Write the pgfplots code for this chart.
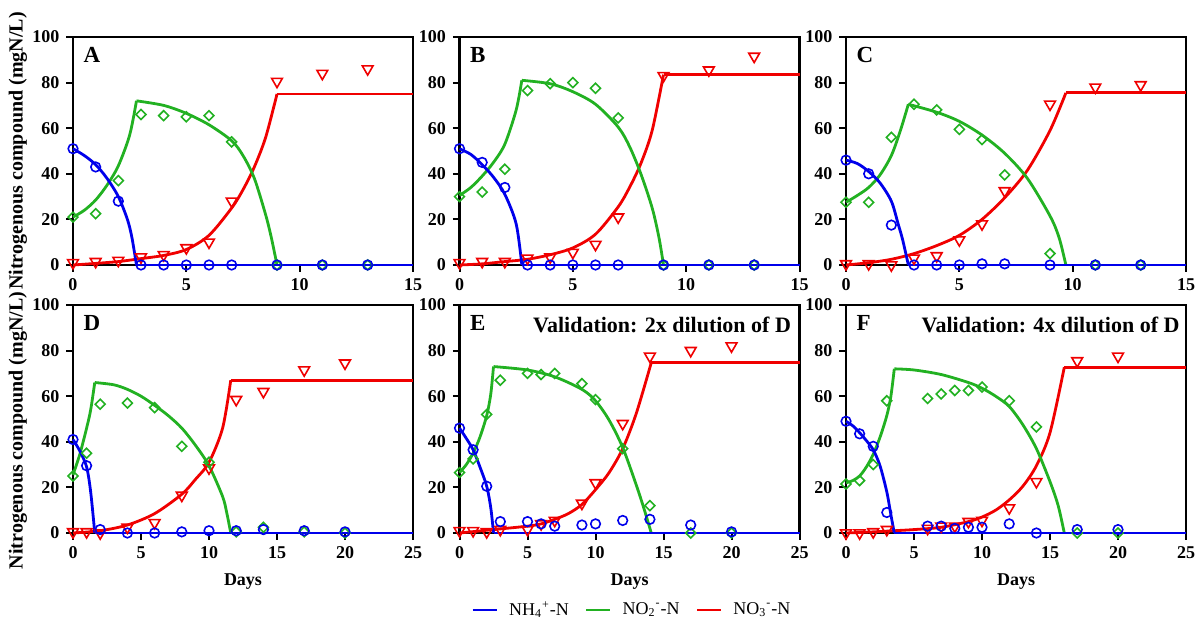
\documentclass[border=0pt]{standalone}
\usepackage{fontspec}
\setmainfont{Liberation Serif}
\usepackage{pgfplots}
\pgfplotsset{compat=1.18}
\usepgfplotslibrary{groupplots}

\definecolor{cnh}{RGB}{0,0,235}
\definecolor{cno2}{RGB}{34,177,34}
\definecolor{cno3}{RGB}{240,0,0}

\pgfplotsset{
  panel/.style={
    scale only axis, width=170pt, height=114pt,
    xmin=0, ymin=0, ymax=100, ytick={0,20,...,100},
    clip=false,
    axis line style={line width=1.3pt, black},
    tick style={line width=1pt, black},
    major tick length=3.3pt,
    tick align=outside, xtick pos=bottom, ytick pos=left,
    tick label style={font=\fontsize{9}{10}\selectfont\bfseries},
    /pgf/number format/assume math mode=true,
    ylabel style={font=\fontsize{10}{11}\selectfont\bfseries},
    xlabel style={font=\fontsize{9}{10}\selectfont\bfseries},
  },
  short/.style={xmax=15, xtick={0,5,10,15}},
  long/.style={xmax=25, xtick={0,5,...,25}},
  mdl/.style={line width=1.4pt, no markers, smooth},
  flat/.style={line width=1.4pt, no markers, sharp plot},
  nh/.style={only marks, mark=o, mark size=2.4pt, cnh, mark options={line width=0.8pt}},
  no2/.style={only marks, mark=square, mark size=1.75pt, cno2, mark options={rotate=45, line width=0.8pt}},
  no3/.style={only marks, mark=triangle, mark size=3.1pt, cno3, mark options={rotate=180, line width=0.8pt}},
}
\tikzset{
  lbl/.style={anchor=north west, inner sep=0pt, font=\fontsize{11.5}{12}\selectfont\bfseries},
  val/.style={anchor=north east, inner sep=0pt, font=\fontsize{11}{12}\selectfont\bfseries},
}

\begin{document}
\begin{tikzpicture}
\begin{groupplot}[
  group style={group size=3 by 2, horizontal sep=23.25pt, vertical sep=20pt, group name=G},
  panel]

% ---------- A ----------
\nextgroupplot[short, ylabel={Nitrogenous compound (mgN/L)},
  ylabel style={at={(axis description cs:-0.162,0.5)}, anchor=center}]
\addplot[mdl, cno3] coordinates {(0,0)(1,0.7)(2,1.5)(3,2.8)(4,4.2)(5,6.8)(6,13)(7,25)(7.5,33)(8,43)(8.5,56)(9,75)};
\addplot[flat, cno3] coordinates {(9,75)(15,75)};
\addplot[mdl, cno2] coordinates {(0,21)(0.5,24)(1,28.5)(1.5,35)(2,43.5)(2.5,57)(2.8,72)};
\addplot[mdl, cno2] coordinates {(2.8,72)(4,70)(5,66.5)(6,61.5)(7,54.5)(7.5,48)(8,38)(8.5,22)(8.75,12)(9,0)};
\addplot[flat, cno2] coordinates {(9,0)(15,0)};
\addplot[mdl, cnh] coordinates {(0,51)(0.5,48)(1,44)(1.5,38)(2,30)(2.4,20)(2.6,12)(2.8,0)};
\addplot[flat, cnh] coordinates {(2.8,0)(15,0)};
\addplot[no3] coordinates {(0,1)(1,1.5)(2,2)(3,3.5)(4,4.5)(5,7.5)(6,10)(7,28)(9,80.5)(11,84)(13,86)};
\addplot[no2] coordinates {(0,21)(1,22.5)(2,37)(3,66)(4,65.5)(5,65)(6,65.5)(7,54)(9,0)(11,0)(13,0)};
\addplot[nh] coordinates {(0,51)(1,43)(2,28)(3,0)(4,0)(5,0)(6,0)(7,0)(9,0)(11,0)(13,0)};
\node[lbl] at (rel axis cs:0.03,0.955) {A};

% ---------- B ----------
\nextgroupplot[short]
\addplot[mdl, cno3] coordinates {(0,0)(1,0.5)(2,1.5)(3,2.5)(4,4.5)(5,7.5)(6,13.5)(7,25.5)(7.5,34)(8,44.5)(8.5,59)(9,83.5)};
\addplot[flat, cno3] coordinates {(9,83.5)(15,83.5)};
\addplot[mdl, cno2] coordinates {(0,30.5)(0.5,34)(1,39)(1.5,45)(2,53)(2.5,68)(2.75,81)};
\addplot[mdl, cno2] coordinates {(2.75,81)(4,79.5)(5,76)(6,70.5)(7,60.5)(7.5,52)(8,40)(8.5,25)(8.8,12)(9,0)};
\addplot[flat, cno2] coordinates {(9,0)(15,0)};
\addplot[mdl, cnh] coordinates {(0,51)(0.5,48.5)(1,44)(1.5,38.5)(2,31)(2.5,18)(2.75,0)};
\addplot[flat, cnh] coordinates {(2.75,0)(15,0)};
\addplot[no3] coordinates {(0,1)(1,1.5)(2,1.5)(3,3)(4,3.5)(5,5.5)(6,9)(7,21)(9,83)(11,85.5)(13,91.5)};
\addplot[no2] coordinates {(0,30)(1,32)(2,42)(3,76.5)(4,79.5)(5,80)(6,77.5)(7,64.5)(9,0)(11,0)(13,0)};
\addplot[nh] coordinates {(0,51)(1,45)(2,34)(3,0)(4,0)(5,0)(6,0)(7,0)(9,0)(11,0)(13,0)};
\node[lbl] at (rel axis cs:0.03,0.955) {B};

% ---------- C ----------
\nextgroupplot[short]
\addplot[mdl, cno3] coordinates {(0,0)(1,1)(2,2.5)(3,5)(4,8.5)(5,13)(6,20)(7,29.5)(8,41.5)(9,59)(9.7,75.5)};
\addplot[flat, cno3] coordinates {(9.7,75.5)(15,75.5)};
\addplot[mdl, cno2] coordinates {(0,27.5)(0.5,30.5)(1,34)(1.5,39.5)(2,48)(2.4,59)(2.75,70.5)};
\addplot[mdl, cno2] coordinates {(2.75,70.5)(4,67)(5,63)(6,57)(7,49)(8,38)(9,21.5)(9.4,12)(9.7,0)};
\addplot[flat, cno2] coordinates {(9.7,0)(15,0)};
\addplot[mdl, cnh] coordinates {(0,46)(0.5,44.5)(1,41)(1.5,36)(2,28)(2.3,18)(2.5,11)(2.75,0)};
\addplot[flat, cnh] coordinates {(2.75,0)(15,0)};
\addplot[no3] coordinates {(0,0.5)(1,0.5)(2,0)(3,3)(4,4)(5,11)(6,18)(7,32.5)(9,70.5)(11,78)(13,79)};
\addplot[no2] coordinates {(0,27.5)(1,27.5)(2,56)(3,70.5)(4,68)(5,59.5)(6,55)(7,39.5)(9,5)(11,0)(13,0)};
\addplot[nh] coordinates {(0,46)(1,40)(2,17.5)(3,0)(4,0)(5,0)(6,0.5)(7,0.5)(9,0)(11,0)(13,0)};
\node[lbl] at (rel axis cs:0.03,0.955) {C};

% ---------- D ----------
\nextgroupplot[long, xlabel={Days}, ylabel={Nitrogenous compound (mgN/L)},
  ylabel style={at={(axis description cs:-0.162,0.45)}, anchor=center},
  xlabel style={at={(axis description cs:0.5,-0.215)}, anchor=center}]
\addplot[mdl, cno3] coordinates {(0,0)(2,1)(4,3.5)(6,8.5)(8,17)(9,23.5)(10,31)(11,46)(11.6,67)};
\addplot[flat, cno3] coordinates {(11.6,67)(25,67)};
\addplot[mdl, cno2] coordinates {(0,25.5)(0.5,34.5)(1,46)(1.3,54)(1.6,66)};
\addplot[mdl, cno2] coordinates {(1.6,66)(3,65)(4,63)(5,60)(6,56)(7,51.5)(8,46)(9,38.5)(10,29.5)(11,16)(11.3,9)(11.6,0)};
\addplot[flat, cno2] coordinates {(11.6,0)(25,0)};
\addplot[mdl, cnh] coordinates {(0,41)(0.5,36)(1,29)(1.3,18)(1.6,0)};
\addplot[flat, cnh] coordinates {(1.6,0)(25,0)};
\addplot[no3] coordinates {(0,0.5)(1,0.5)(2,0)(4,2.5)(6,4.5)(8,16.5)(10,28.5)(12,58.5)(14,62)(17,71.5)(20,74.5)};
\addplot[no2] coordinates {(0,25)(1,35)(2,56.5)(4,57)(6,55)(8,38)(10,31)(12,0.5)(14,2.5)(17,0.5)(20,0)};
\addplot[nh] coordinates {(0,41)(1,29.5)(2,1.5)(4,0)(6,0)(8,0.5)(10,1)(12,1)(14,1.5)(17,1)(20,0.5)};
\node[lbl] at (rel axis cs:0.03,0.955) {D};

% ---------- E ----------
\nextgroupplot[long, xlabel={Days},
  xlabel style={at={(axis description cs:0.5,-0.215)}, anchor=center},
  legend columns=3,
  legend style={at={(0.51,-0.338)}, anchor=center, draw=none, fill=none,
    font=\fontsize{9}{10}\selectfont, inner sep=0pt,
    /tikz/every odd column/.append style={column sep=3.5pt},
    /tikz/every even column/.append style={column sep=6pt}},
  legend image code/.code={\draw[#1] (0pt,0pt) -- (12pt,0pt);}]
\addlegendimage{cnh, line width=1.4pt}
\addlegendentry{NH\textsubscript{4}\textsuperscript{+}-N}
\addlegendimage{cno2, line width=1.4pt}
\addlegendentry{NO\textsubscript{2}\textsuperscript{-}-N}
\addlegendimage{cno3, line width=1.4pt}
\addlegendentry{NO\textsubscript{3}\textsuperscript{-}-N}
\addplot[mdl, cno3] coordinates {(0,0)(2.5,1.5)(5,3)(6,4)(7,6)(8,8.5)(9,12.5)(10,19)(11,26.5)(12,37)(13,52.5)(14.1,74.7)};
\addplot[flat, cno3] coordinates {(14.1,74.7)(25,74.7)};
\addplot[mdl, cno2] coordinates {(0,26.5)(0.5,30)(1,35)(1.5,42)(2,51.5)(2.3,61)(2.5,73)};
\addplot[mdl, cno2] coordinates {(2.5,73)(5,71.5)(7,68.5)(9,63)(10,58)(11,49.5)(12,37.5)(13,21)(13.6,10)(14.1,0)};
\addplot[flat, cno2] coordinates {(14.1,0)(25,0)};
\addplot[mdl, cnh] coordinates {(0,46)(0.5,41.5)(1,36.5)(1.5,29)(2,20.5)(2.3,11)(2.5,0)};
\addplot[flat, cnh] coordinates {(2.5,0)(25,0)};
\addplot[no3] coordinates {(0,1)(1,1)(2,0.5)(3,1.5)(5,1.5)(6,4)(7,5.5)(9,13)(10,22)(12,48)(14,77.5)(17,80)(20,82)};
\addplot[no2] coordinates {(0,26.5)(1,32.5)(2,52)(3,67)(5,70)(6,69.5)(7,70)(9,65.5)(10,58.5)(12,37)(14,12)(17,0)(20,0)};
\addplot[nh] coordinates {(0,46)(1,36.5)(2,20.5)(3,5)(5,5)(6,4)(7,3)(9,3.5)(10,4)(12,5.5)(14,6)(17,3.5)(20,0.5)};
\node[lbl] at (rel axis cs:0.03,0.955) {E};
\node[val] at (rel axis cs:0.976,0.95) {Validation: 2x dilution of D};

% ---------- F ----------
\nextgroupplot[long, xlabel={Days},
  xlabel style={at={(axis description cs:0.5,-0.215)}, anchor=center}]
\addplot[mdl, cno3] coordinates {(0,0)(2,0.5)(3.55,1)(5,1.5)(7,2.5)(9,5)(10,7)(11,10)(12,14.5)(13,20.5)(14,29.5)(15,44)(16.05,72.7)};
\addplot[flat, cno3] coordinates {(16.05,72.7)(25,72.7)};
\addplot[mdl, cno2] coordinates {(0,22)(0.5,23)(1,25)(1.5,29)(2,34.5)(2.5,42)(3,51.5)(3.3,60)(3.55,72)};
\addplot[mdl, cno2] coordinates {(3.55,72)(5,71.5)(7,69.5)(9,66)(10,63.5)(11,60)(12,55.5)(13,47.5)(14,37)(15,22.5)(15.6,12)(16.05,0)};
\addplot[flat, cno2] coordinates {(16.05,0)(25,0)};
\addplot[mdl, cnh] coordinates {(0,49)(0.5,47)(1,44)(1.5,40.5)(2,36.5)(2.5,29.5)(3,18)(3.3,8)(3.55,0)};
\addplot[flat, cnh] coordinates {(3.55,0)(25,0)};
\addplot[no3] coordinates {(0,0)(1,0)(2,0.5)(3,1.5)(6,2)(7,3)(8,3)(9,5)(10,5.5)(12,11)(14,22.5)(17,75.5)(20,77.5)};
\addplot[no2] coordinates {(0,21.5)(1,23)(2,30)(3,58)(6,59)(7,61)(8,62.5)(9,62.5)(10,64)(12,58)(14,46.5)(17,0)(20,0)};
\addplot[nh] coordinates {(0,49)(1,43.5)(2,38)(3,9)(6,3)(7,3)(8,2)(9,2.5)(10,2.5)(12,4)(14,0)(17,1.5)(20,1.5)};
\node[lbl] at (rel axis cs:0.03,0.955) {F};
\node[val] at (rel axis cs:0.982,0.95) {Validation: 4x dilution of D};
\end{groupplot}
\pgfresetboundingbox
\path[use as bounding box] ([xshift=-36.5pt,yshift=18.5pt]G c1r1.north west) rectangle ([xshift=7.5pt,yshift=-43pt]G c3r2.south east);
\end{tikzpicture}
\end{document}
